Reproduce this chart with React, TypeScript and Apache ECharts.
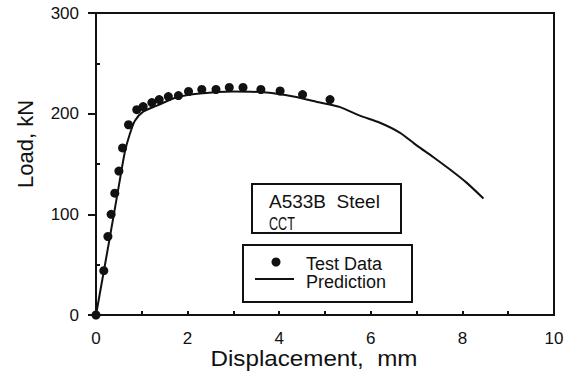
import React, { useEffect, useRef } from "react";
import * as echarts from "echarts";

// Test data (displacement mm, load kN)
const testDisp = [0, 0.17, 0.26, 0.33, 0.41, 0.5, 0.58, 0.71, 0.89, 1.03, 1.22, 1.38, 1.58, 1.8, 2.02, 2.31, 2.62, 2.91, 3.21, 3.6, 4.02, 4.51, 5.11];
const testLoad = [0, 44, 78, 100, 121, 143, 166, 189, 204, 207, 211, 214, 217, 218, 222, 224, 224, 226, 226, 224, 222.5, 219, 214];

// Prediction curve
const predDisp = [0, 0.29, 0.52, 0.63, 0.74, 0.85, 1.03, 1.33, 1.75, 2.27, 2.99, 3.72, 4.31, 4.89, 5.33, 5.76, 6.2, 6.64, 7.0, 7.36, 7.73, 8.09, 8.46];
const predLoad = [0, 74, 134, 162, 180, 193, 202, 208, 216, 220, 222, 221, 217, 211, 206.5, 198, 191, 181, 168.5, 157, 144.5, 131.5, 115.7];

const xTickLabels = [0, 2, 4, 6, 8, 10];
const yTickLabels = [0, 100, 200, 300];
const yMinorTicks = [50, 150, 250];

const FONT = '"Liberation Sans", Arial, Helvetica, sans-serif';
const INK = "#111";

export default function App() {
  const ref = useRef<HTMLDivElement>(null);
  useEffect(() => {
    if (!ref.current) return;
    const chart = echarts.init(ref.current, undefined, { renderer: "svg" });
    const scatterData = testDisp.map((x, i) => [x, testLoad[i]]);
    const lineData = predDisp.map((x, i) => [x, predLoad[i]]);
    chart.setOption({
      animation: false,
      backgroundColor: "#fff",
      grid: {
        left: 96,
        right: 17,
        top: 13,
        bottom: 61,
        show: true,
        borderColor: INK,
        borderWidth: 2,
      },
      xAxis: {
        type: "value",
        min: 0,
        max: 10,
        interval: 1,
        axisLine: { show: true, lineStyle: { color: INK, width: 2 } },
        axisTick: { show: true, inside: true, length: 4, lineStyle: { color: INK, width: 2 } },
        axisLabel: {
          customValues: xTickLabels,
          color: INK,
          fontFamily: FONT,
          fontSize: 17,
          margin: 15,
        },
        splitLine: { show: false },
      },
      yAxis: [
        {
          type: "value",
          min: 0,
          max: 300,
          interval: 100,
          axisLine: { show: true, lineStyle: { color: INK, width: 2 } },
          axisTick: { show: true, inside: false, length: 8, lineStyle: { color: INK, width: 2 } },
          axisLabel: {
            customValues: yTickLabels,
            color: INK,
            fontFamily: FONT,
            fontSize: 17,
            margin: 17,
          },
          splitLine: { show: false },
        },
        {
          type: "value",
          min: 0,
          max: 300,
          position: "left",
          axisLine: { show: false },
          axisTick: {
            show: true,
            inside: true,
            length: 4,
            customValues: yMinorTicks,
            lineStyle: { color: INK, width: 2 },
          },
          axisLabel: { show: false },
          splitLine: { show: false },
        },
      ],
      series: [
        {
          type: "line",
          data: lineData,
          showSymbol: false,
          smooth: 0.25,
          lineStyle: { color: INK, width: 2 },
          z: 2,
        },
        {
          type: "scatter",
          data: scatterData,
          symbolSize: 9,
          clip: false,
          itemStyle: { color: INK, opacity: 1 },
          z: 3,
        },
      ],
      graphic: [
        {
          type: "text",
          x: 25,
          y: 144,
          rotation: Math.PI / 2,
          style: { text: "Load, kN", font: `22px ${FONT}`, fill: INK, align: "center", verticalAlign: "middle" },
        },
        {
          type: "text",
          x: 314,
          y: 358,
          scaleX: 1.1,
          style: { text: "Displacement,  mm", font: `22px ${FONT}`, fill: INK, align: "center", verticalAlign: "middle" },
        },
        {
          type: "rect",
          shape: { x: 252, y: 184, width: 149, height: 49 },
          style: { fill: "#fff", stroke: INK, lineWidth: 2 },
          z: 10,
        },
        {
          type: "text",
          x: 269,
          y: 201.5,
          z: 11,
          style: { text: "A533B  Steel", font: `19px ${FONT}`, fill: INK, align: "left", verticalAlign: "middle" },
        },
        {
          type: "text",
          x: 269,
          y: 223.5,
          z: 11,
          scaleX: 0.7,
          style: { text: "CCT", font: `18px ${FONT}`, fill: INK, align: "left", verticalAlign: "middle" },
        },
        {
          type: "rect",
          shape: { x: 243, y: 245, width: 169, height: 57 },
          style: { fill: "#fff", stroke: INK, lineWidth: 2 },
          z: 10,
        },
        {
          type: "circle",
          shape: { cx: 276, cy: 262, r: 4.5 },
          style: { fill: INK },
          z: 11,
        },
        {
          type: "line",
          shape: { x1: 255, y1: 279, x2: 294, y2: 279 },
          style: { stroke: INK, lineWidth: 2 },
          z: 11,
        },
        {
          type: "text",
          x: 306,
          y: 263.5,
          z: 11,
          style: { text: "Test Data", font: `18px ${FONT}`, fill: INK, align: "left", verticalAlign: "middle", lineHeight: 17 },
        },
        {
          type: "text",
          x: 306,
          y: 282,
          z: 11,
          style: { text: "Prediction", font: `18px ${FONT}`, fill: INK, align: "left", verticalAlign: "middle", lineHeight: 17 },
        },
      ],
    });
    return () => chart.dispose();
  }, []);
  return (
    <div
      ref={ref}
      style={{ position: "absolute", left: 0, top: 0, width: 571, height: 376, background: "#fff" }}
    />
  );
}
